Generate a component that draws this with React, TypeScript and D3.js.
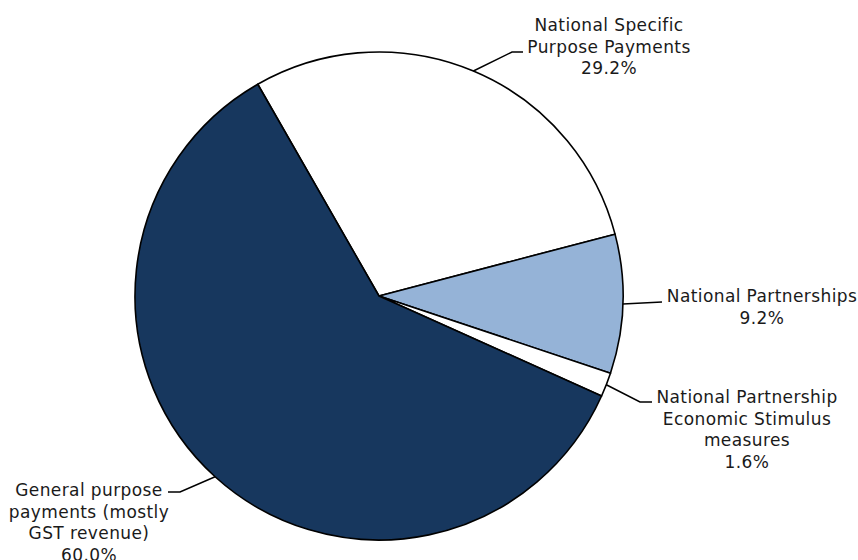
import React from "react";
import * as d3 from "d3";

const categories = [
  "National Specific Purpose Payments",
  "National Partnerships",
  "National Partnership Economic Stimulus measures",
  "General purpose payments (mostly GST revenue)",
];
const values = [29.2, 9.2, 1.6, 60.0];
const labelLines = [
  ["National Specific", "Purpose Payments", "29.2%"],
  ["National Partnerships", "9.2%"],
  ["National Partnership", "Economic Stimulus", "measures", "1.6%"],
  ["General purpose", "payments (mostly", "GST revenue)", "60.0%"],
];
const colors = ["#ffffff", "#95b3d7", "#ffffff", "#17375e"];

// label layout: text anchor center x, first baseline y, leader elbow and end
const labelLayout = [
  { x: 609, y: 31, elbow: [512, 52], end: [523, 52] },
  { x: 762, y: 302, elbow: [662, 302], end: [662, 302] },
  { x: 747, y: 403, elbow: [640, 402], end: [652, 402] },
  { x: 89, y: 496, elbow: [180, 492], end: [168, 492] },
];

const W = 858;
const H = 560;
const cx = 379;
const cy = 296;
const R = 244;
const startDeg = -29.8;

export default function App() {
  const start = (startDeg * Math.PI) / 180;
  const pie = d3
    .pie<number>()
    .sort(null)
    .value((d) => d)
    .startAngle(start)
    .endAngle(start + 2 * Math.PI);
  const arcs = pie(values);
  const arc = d3.arc<d3.PieArcDatum<number>>().innerRadius(0).outerRadius(R);
  const lh = 21.7;
  return (
    <svg
      width={W}
      height={H}
      style={{ position: "absolute", left: 0, top: 0, background: "#fff" }}
      fontFamily="'DejaVu Sans', Verdana, sans-serif"
      fontSize={17}
      letterSpacing={0.4}
    >
      <g transform={`translate(${cx},${cy})`}>
        {arcs.map((a, i) => (
          <path
            key={categories[i]}
            d={arc(a) || ""}
            fill={colors[i]}
            stroke="#000"
            strokeWidth={1.6}
            strokeLinejoin="round"
          />
        ))}
      </g>
      {arcs.map((a, i) => {
        const mid = (a.startAngle + a.endAngle) / 2;
        const px = cx + R * Math.sin(mid);
        const py = cy - R * Math.cos(mid);
        const L = labelLayout[i];
        const pts = [[px, py], L.elbow, L.end] as [number, number][];
        return (
          <g key={"lab" + i}>
            <path
              d={d3.line()(pts) || ""}
              fill="none"
              stroke="#000"
              strokeWidth={1.5}
            />
            <text textAnchor="middle" fill="#1a1a1a">
              {labelLines[i].map((t, j) => (
                <tspan key={j} x={L.x} y={L.y + j * lh}>
                  {t}
                </tspan>
              ))}
            </text>
          </g>
        );
      })}
    </svg>
  );
}
